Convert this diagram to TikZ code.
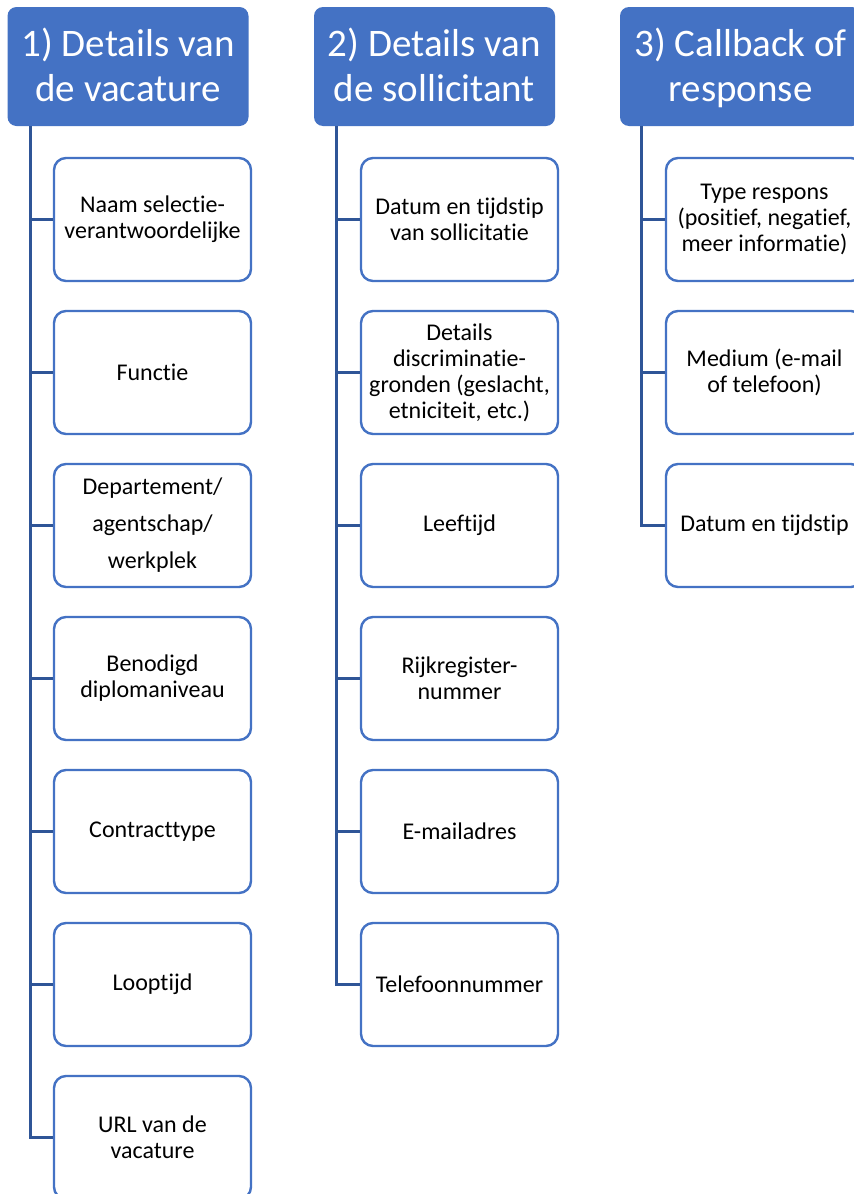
\documentclass[tikz,border=0pt]{standalone}
\usepackage{fontspec}
\setmainfont[Ligatures=NoCommon]{Carlito}
\definecolor{hdrblue}{HTML}{4472C4}
\definecolor{linkblue}{HTML}{2F5597}
\newcommand{\hdrtop}{\rule{0pt}{38pt}}
\begin{document}
\begin{tikzpicture}[x=1pt,y=-1pt,
  hdr/.style={rectangle, rounded corners=9pt, fill=hdrblue, draw=none,
    minimum width=241pt, minimum height=119pt, text=white, align=center,
    font=\fontsize{39}{45}\selectfont, inner sep=0pt},
  item/.style={rectangle, rounded corners=12pt, draw=hdrblue, line width=2.4pt, fill=white,
    minimum width=197pt, minimum height=123pt, align=center,
    font=\fontsize{24}{26}\selectfont, inner sep=0pt},
  conn/.style={draw=linkblue, line width=2.8pt}]
\clip (0,0) rectangle (854,1194);
\fill[white] (0,0) rectangle (854,1194);
% headers
\node[hdr] (h1) at (128,66.5) {\hdrtop 1) Details van\\\strut de vacature};
\node[hdr] (h2) at (434.5,66.5) {\hdrtop 2) Details van\\\strut de sollicitant};
\node[hdr] (h3) at (740.5,66.5) {\hdrtop 3) Callback of\\\strut response};
% column 1
\node[item] (a1) at (152.5,219.5) {Naam selectie-\\verantwoordelijke};
\node[item] (a2) at (152.5,372.5) {Functie};
\node[item,font=\fontsize{24}{37}\selectfont] (a3) at (152.5,525.5) {Departement/\\agentschap/\\werkplek};
\node[item] (a4) at (152.5,678.5) {Benodigd\\diplomaniveau};
\node[item] (a5) at (152.5,831.5) {Contracttype};
\node[item] (a6) at (152.5,984.5) {Looptijd};
\node[item] (a7) at (152.5,1137.5) {URL van de\\vacature};
% column 2
\node[item] (b1) at (459.5,219.5) {Datum en tijdstip\\van sollicitatie};
\node[item] (b2) at (459.5,372.5) {Details\\discriminatie-\\gronden (geslacht,\\etniciteit, etc.)};
\node[item] (b3) at (459.5,525.5) {Leeftijd};
\node[item] (b4) at (459.5,678.5) {Rijkregister-\\nummer};
\node[item] (b5) at (459.5,831.5) {E-mailadres};
\node[item] (b6) at (459.5,984.5) {Telefoonnummer};
% column 3
\node[item] (c1) at (764.5,219.5) {Type respons\\(positief, negatief,\\meer informatie)};
\node[item] (c2) at (764.5,372.5) {Medium (e-mail\\of telefoon)};
\node[item] (c3) at (764.5,525.5) {Datum en tijdstip};
% connectors
\foreach \n in {a1,a2,a3,a4,a5,a6,a7}
  \draw[conn] (h1.south west) ++(23,0) |- (\n.west);
\foreach \n in {b1,b2,b3,b4,b5,b6}
  \draw[conn] (h2.south west) ++(23,0) |- (\n.west);
\foreach \n in {c1,c2,c3}
  \draw[conn] (h3.south west) ++(22,0) |- (\n.west);
\end{tikzpicture}
\end{document}
